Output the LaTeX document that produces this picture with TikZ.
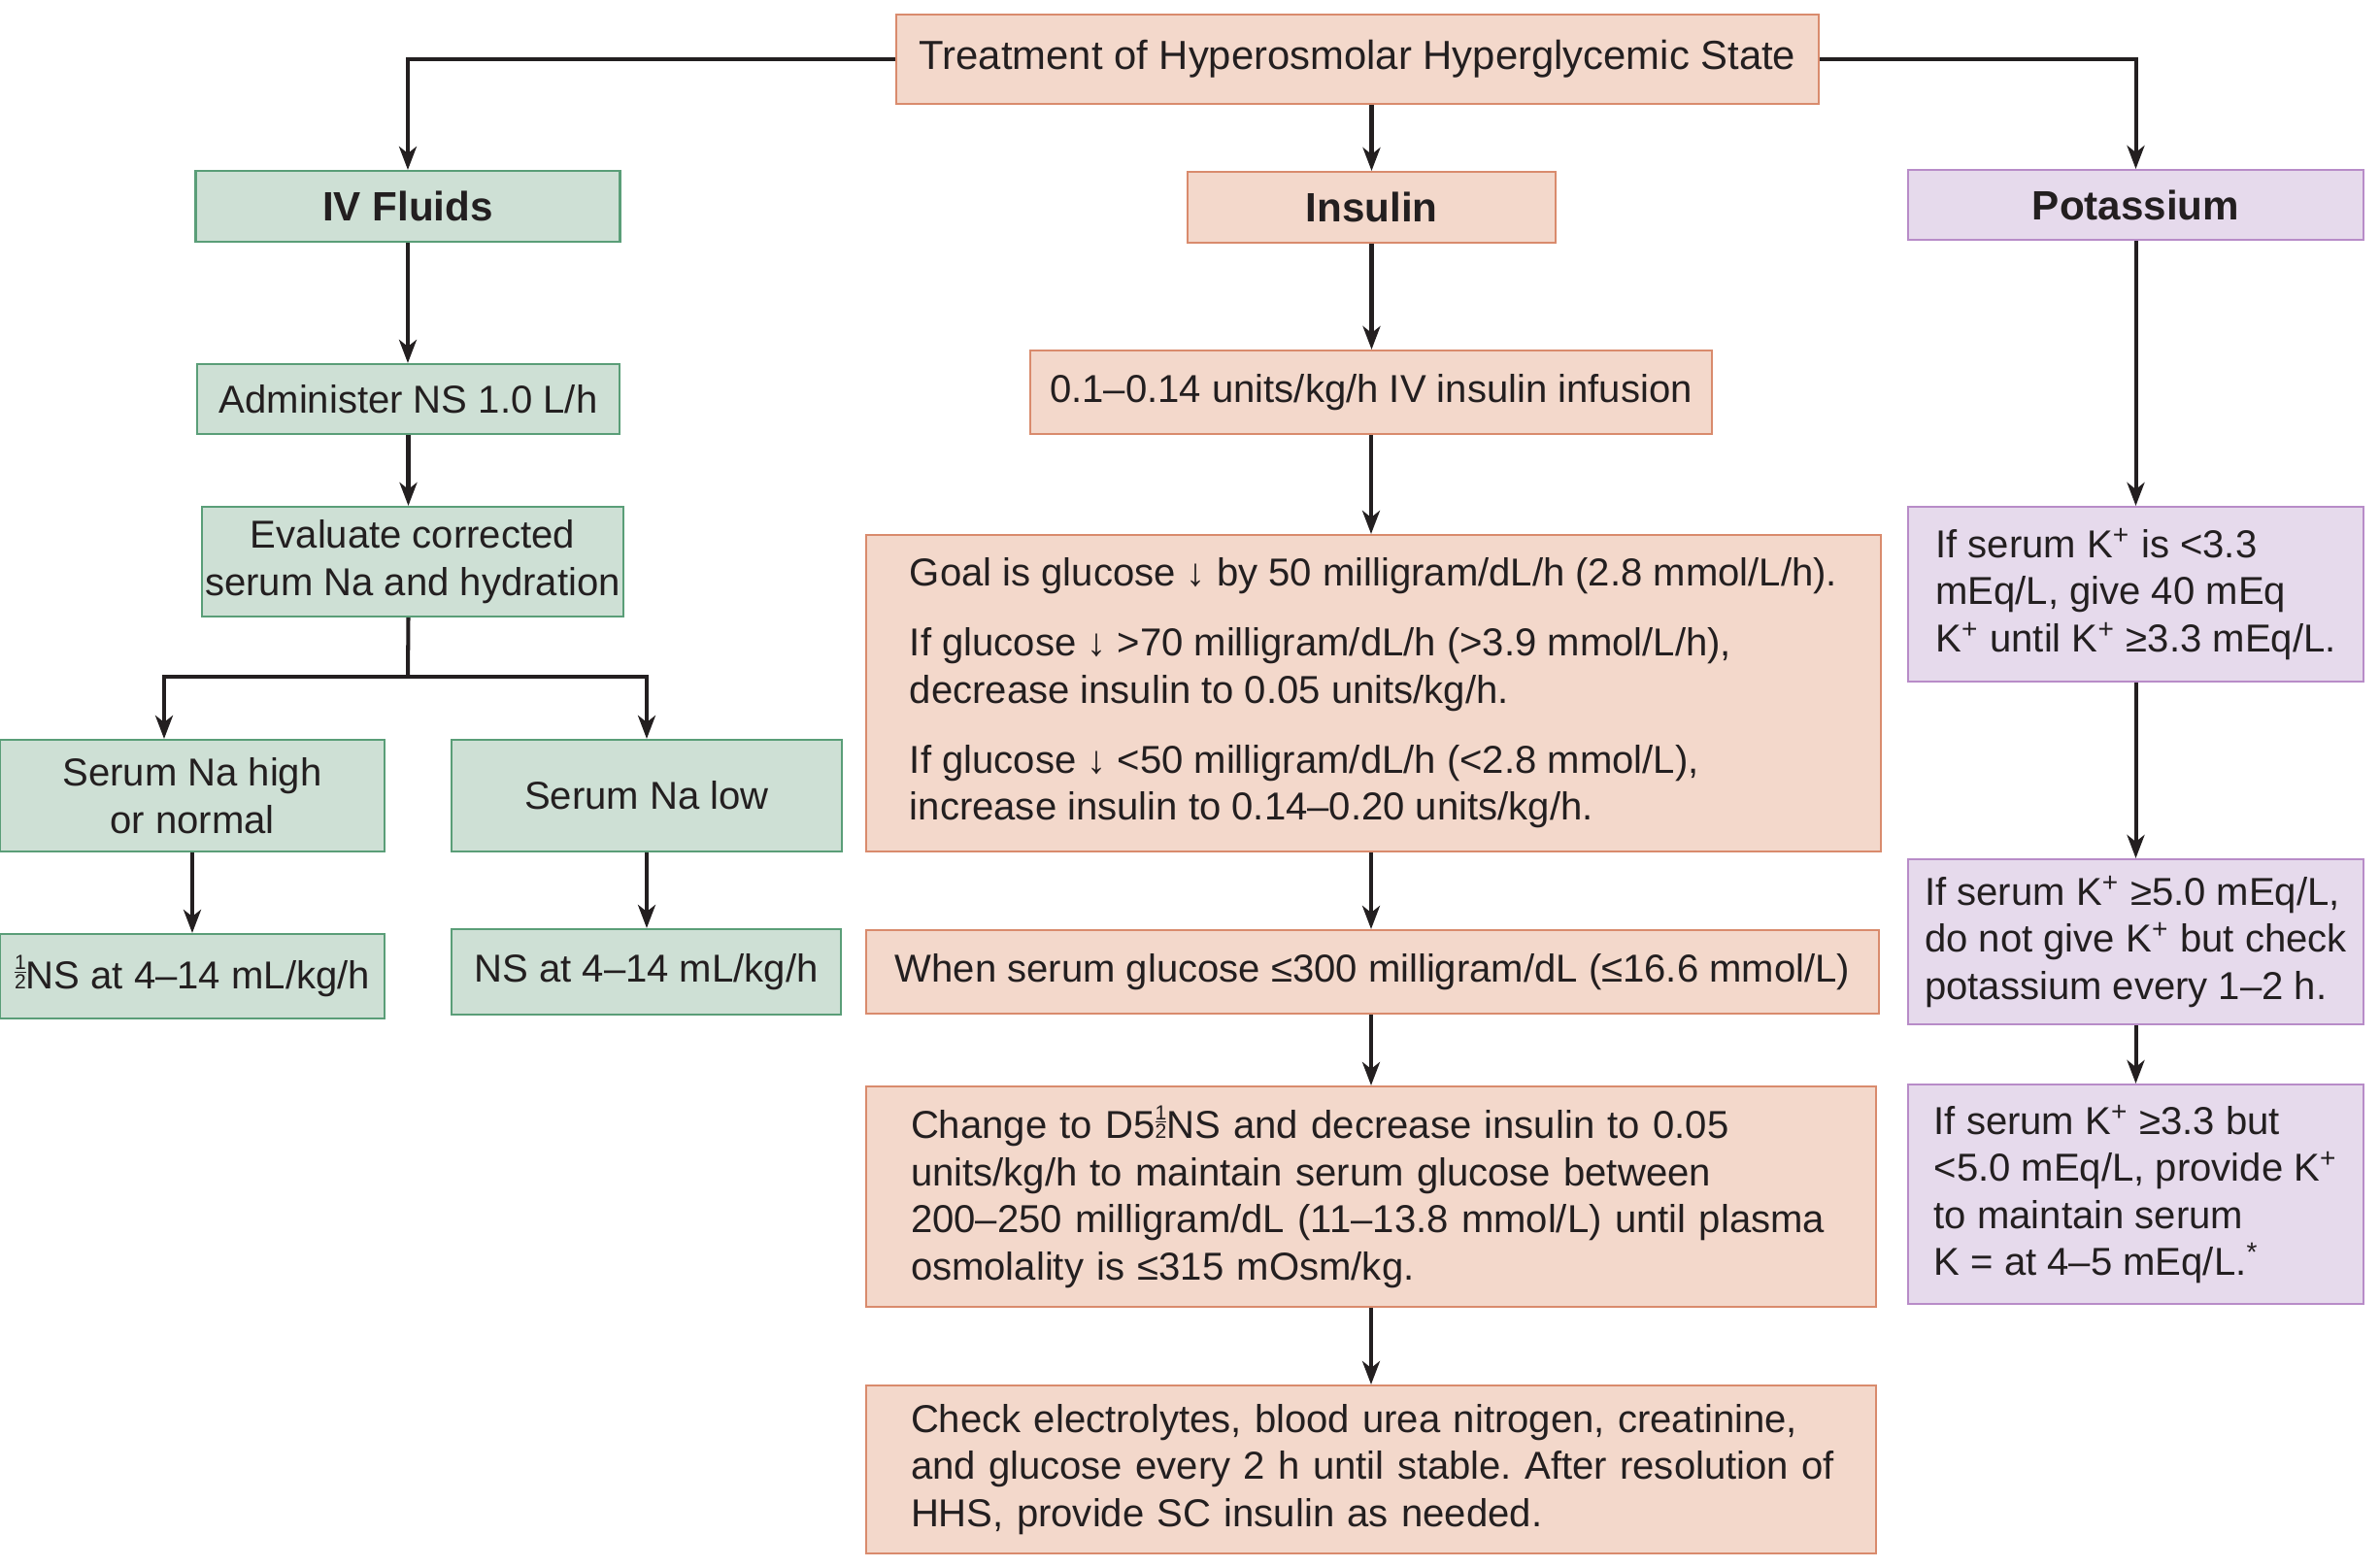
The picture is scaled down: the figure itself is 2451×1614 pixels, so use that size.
\documentclass[tikz,border=0pt]{standalone}
\usepackage{fontspec}
\setmainfont{Liberation Sans}
\usetikzlibrary{arrows.meta}
\definecolor{grnF}{HTML}{CEE0D5}
\definecolor{grnB}{HTML}{5A9E78}
\definecolor{salF}{HTML}{F3D8CB}
\definecolor{salB}{HTML}{D98B6D}
\definecolor{purF}{HTML}{E6DAEC}
\definecolor{purB}{HTML}{B88CC8}
\definecolor{ink}{HTML}{231F20}
\frenchspacing
\hfuzz=20pt
\newcommand{\msz}{\fontsize{11.4}{13.8}\selectfont}
\newcommand{\hlf}{{\fontsize{6}{6}\selectfont\vbox{\hbox{1}\kern0.5pt\hrule height0.4pt\kern0.5pt\hbox{2}}}}
\newcommand{\kp}{K\textsuperscript{+}}
\tikzset{
  basebox/.style={line width=0.6pt, inner sep=0pt, align=center, font=\msz, text=ink},
  gbox/.style={basebox, draw=grnB, fill=grnF},
  obox/.style={basebox, draw=salB, fill=salF},
  pbox/.style={basebox, draw=purB, fill=purF},
  headtxt/.style={font=\fontsize{12}{14}\selectfont\bfseries},
  conn/.style={line width=1.15pt, draw=ink},
  arr/.style={conn, -{Stealth[length=2.4mm,width=1.8mm,inset=0.7mm]}},
}
\begin{document}
\begin{tikzpicture}[x=0.1mm,y=-0.1mm]
\fill[white] (0,0) rectangle (2451,1614);
\useasboundingbox (0,0) rectangle (2451,1614);

% top
\node[obox, font=\fontsize{11.9}{14}\selectfont, minimum width=95mm, minimum height=9.2mm] (title) at (1398,61) {\raisebox{-2pt}{Treatment of Hyperosmolar Hyperglycemic State}};

% headings
\node[gbox, headtxt, minimum width=43.7mm, minimum height=7.3mm] (iv) at (420,212.5) {IV Fluids};
\node[obox, headtxt, minimum width=37.9mm, minimum height=7.3mm] (ins) at (1412.5,213.5) {Insulin};
\node[pbox, headtxt, minimum width=46.9mm, minimum height=7.2mm] (pot) at (2199.5,211) {Potassium};

% IV fluids column
\node[gbox, minimum width=43.5mm, minimum height=7.2mm] (adm) at (420.5,411) {Administer NS 1.0 L/h};
\node[gbox, minimum width=43.4mm, minimum height=11.3mm] (eval) at (425,578.5) {Evaluate corrected\\serum Na and hydration};
\node[gbox, minimum width=39.6mm, minimum height=11.5mm] (nahi) at (198,819.5) {Serum Na high\\or normal};
\node[gbox, minimum width=40.2mm, minimum height=11.5mm] (nalo) at (666,819.5) {Serum Na low};
\node[gbox, minimum width=39.6mm, minimum height=8.7mm] (halfns) at (198,1005.5) {\hlf NS at 4–14 mL/kg/h};
\node[gbox, minimum width=40.1mm, minimum height=8.8mm] (ns) at (665.5,1001) {NS at 4–14 mL/kg/h};

% Insulin column
\node[obox, minimum width=70.2mm, minimum height=8.6mm] (inf) at (1412,404) {0.1–0.14 units/kg/h IV insulin infusion};
\node[obox, minimum width=104.5mm, minimum height=32.6mm, align=left] (goal) at (1414.5,714) {%
Goal is glucose ↓ by 50 milligram/dL/h (2.8 mmol/L/h).\\[6.7pt]
If glucose ↓ >70 milligram/dL/h (>3.9 mmol/L/h),\\
decrease insulin to 0.05 units/kg/h.\\[6.7pt]
If glucose ↓ <50 milligram/dL/h (<2.8 mmol/L),\\
increase insulin to 0.14–0.20 units/kg/h.};
\node[obox, minimum width=104.3mm, minimum height=8.6mm] (when) at (1413.5,1001) {When serum glucose ≤300 milligram/dL (≤16.6 mmol/L)};
\node[obox, minimum width=104mm, minimum height=22.7mm, text width=94.8mm, align=left] (chg) at (1412,1232.5) {%
\mbox{Change to D5\hlf NS and decrease insulin to 0.05}\\
\mbox{units/kg/h to maintain serum glucose between}\\
\mbox{200–250 milligram/dL (11–13.8 mmol/L) until plasma}\\
\mbox{osmolality is ≤315 mOsm/kg.}};
\node[obox, minimum width=104mm, minimum height=17.3mm, text width=94.8mm, align=left] (chk) at (1412,1513.5) {%
\mbox{Check electrolytes, blood urea nitrogen, creatinine,}\\
\mbox{and glucose every 2 h until stable. After resolution of}\\
\mbox{HHS, provide SC insulin as needed.}};

% Potassium column
\node[pbox, minimum width=46.9mm, minimum height=18mm, align=left] (k1) at (2199.5,612) {%
If serum \kp{} is <3.3\\
mEq/L, give 40 mEq\\
\kp{} until \kp{} ≥3.3 mEq/L.};
\node[pbox, minimum width=46.9mm, minimum height=17mm, align=left] (k2) at (2199.5,970) {%
If serum \kp{} ≥5.0 mEq/L,\\
do not give \kp{} but check\\
potassium every 1–2 h.};
\node[pbox, minimum width=46.9mm, minimum height=22.6mm, align=left] (k3) at (2199.5,1230) {%
If serum \kp{} ≥3.3 but\\
<5.0 mEq/L, provide \kp\\
to maintain serum\\
K = at 4–5 mEq/L.\textsuperscript{*}};

% connectors from title
\draw[arr] (title.west) -| (iv.north);
\draw[arr] (title.east) -| (pot.north);
\draw[arr] (title.south -| ins.north) -- (ins.north);

% IV fluids connectors
\draw[arr] (iv.south) -- (iv.south |- adm.north);
\draw[arr] (adm.south) -- (adm.south |- eval.north);
\coordinate (jn) at (420,697);
\coordinate (lj) at (169,697);
\draw[conn] (adm.south |- eval.south) -- (jn);
\draw[arr] (jn) -- (lj) -- (lj |- nahi.north);
\draw[arr] (jn) -| (nalo.north);
\draw[arr] (nahi.south) -- (halfns.north);
\draw[arr] (nalo.south) -- (nalo.south |- ns.north);

% Insulin connectors
\draw[arr] (ins.south) -- (ins.south |- inf.north);
\draw[arr] (inf.south) -- (inf.south |- goal.north);
\draw[arr] (inf.south |- goal.south) -- (inf.south |- when.north);
\draw[arr] (inf.south |- when.south) -- (inf.south |- chg.north);
\draw[arr] (chg.south) -- (chk.north);

% Potassium connectors
\draw[arr] (pot.south) -- (k1.north);
\draw[arr] (k1.south) -- (k2.north);
\draw[arr] (k2.south) -- (k3.north);
\end{tikzpicture}
\end{document}
